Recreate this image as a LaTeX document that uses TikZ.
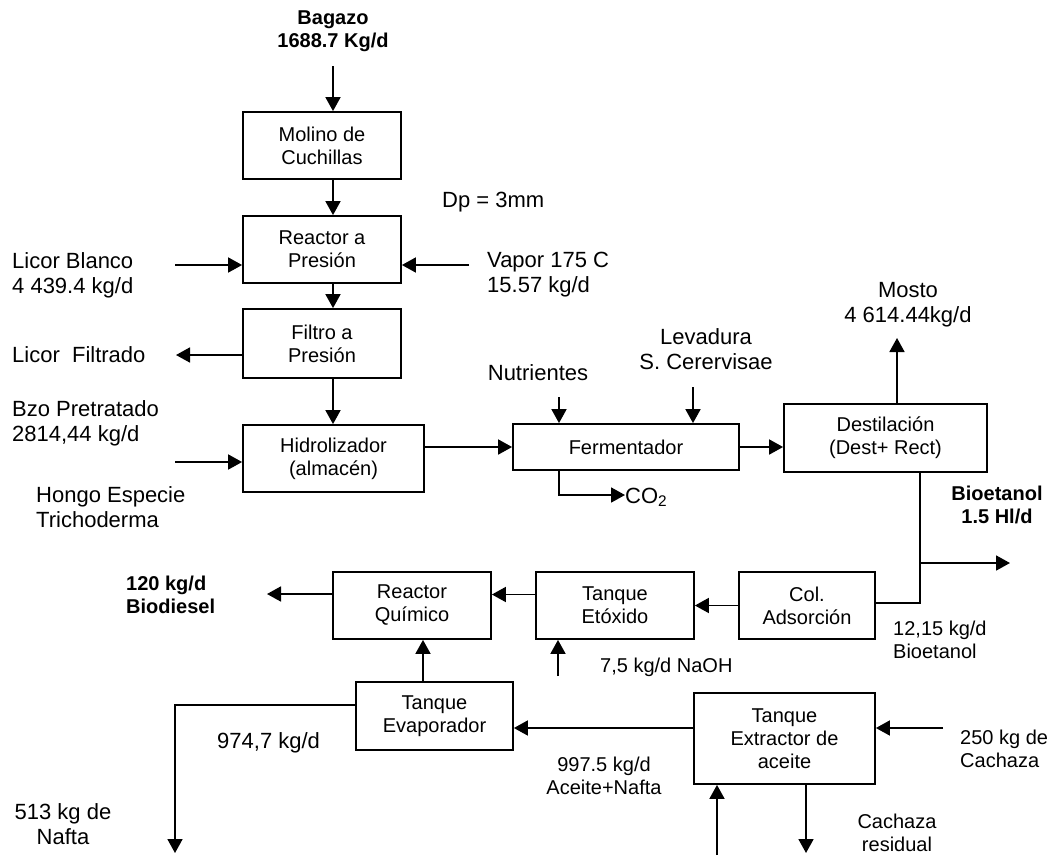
\documentclass[tikz,border=0pt]{standalone}
\usepackage{fontspec}
\setmainfont{Liberation Sans}
\usetikzlibrary{arrows.meta}
\newcommand{\lgtext}{\fontsize{22}{25}\selectfont}
\newcommand{\smtext}{\fontsize{20}{23}\selectfont}

\begin{document}
\begin{tikzpicture}[x=1pt,y=-1pt,
	unit/.style={draw, line width=1.8pt, inner sep=0pt, align=center, font=\smtext},
	flow/.style={line width=1.8pt, -{Triangle[length=14pt,width=15pt]}},
	pipe/.style={line width=1.8pt},
	lbl/.style={inner sep=0pt, font=\lgtext},
	lblsm/.style={inner sep=0pt, font=\smtext},
	lblbf/.style={inner sep=0pt, font=\smtext\bfseries}]
			%%%%% START %%%%%
			\useasboundingbox (0,0) rectangle (1053,855);
			
			% equipos
			\node[unit, minimum width=158pt, minimum height=67pt] (molino) at (322,145.5) {Molino de\\Cuchillas};
			\node[unit, minimum width=158pt, minimum height=67pt] (reactor) at (322,249.5) {Reactor a\\Presión};
			\node[unit, minimum width=158pt, minimum height=69pt] (filtro) at (322,343.5) {Filtro a\\Presión};
			\node[unit, minimum width=181pt, minimum height=67pt] (hidro) at (333.5,458.5) {Hidrolizador\\(almacén)};
			\node[unit, minimum width=226pt, minimum height=46pt] (ferm) at (626,447) {Fermentador};
			\node[unit, minimum width=203pt, minimum height=68pt] (destil) at (885.5,438) {Destilación\\(Dest+ Rect)};
			\node[unit, minimum width=136pt, minimum height=67pt] (coladsor) at (807,605.5) {Col.\\Adsorción};
			\node[unit, minimum width=158pt, minimum height=67pt] (etox) at (615,605.5) {Tanque\\Etóxido};
			\node[unit, minimum width=158pt, minimum height=67pt] (reacq) at (412,605.5) {Reactor\\Químico};
			\node[unit, minimum width=157pt, minimum height=68pt] (evap) at (434.5,716) {Tanque\\Evaporador};
			\node[unit, minimum width=181pt, minimum height=91pt] (extrac) at (784.5,738.5) {Tanque\\Extractor de\\aceite};
			
			% textos
			\node[lblbf, align=center] (bagazo) at (333,31) {Bagazo\\1688.7 Kg/d};
			\node[lbl, anchor=west] (dp) at (442,202) {Dp = 3mm};
			\node[lbl, anchor=west, align=left] (licbl) at (12,275) {Licor Blanco\\4 439.4 kg/d};
			\node[lbl, anchor=west, align=left] (vapor) at (487,275) {Vapor 175 C\\15.57 kg/d};
			\node[lbl, anchor=west] (licfil) at (12,355) {Licor\ \ Filtrado};
			\node[lbl, anchor=west, align=left] (bzo) at (12,423) {Bzo Pretratado\\2814,44 kg/d};
			\node[lbl, anchor=west, align=left] (hongo) at (36,507) {Hongo Especie\\Trichoderma};
			\node[lbl] (nutri) at (538,373) {Nutrientes};
			\node[lbl, align=center] (levad) at (706,349.5) {Levadura\\S. Cerervisae};
			\node[lbl, align=center] (mosto) at (908,305) {Mosto\\4 614.44kg/d};
			\node[lbl, anchor=base west] (co2) at (625,503) {CO\textsubscript{2}};
			\node[lblbf, align=center] (bioet) at (997,505) {Bioetanol\\1.5 Hl/d};
			\node[lblsm, anchor=west, align=left] (bioad) at (893,640) {12,15 kg/d\\Bioetanol};
			\node[lblsm, anchor=west] (naoh) at (600,667) {7,5 kg/d NaOH};
			\node[lblbf, anchor=west, align=left] (biod) at (126,595) {120 kg/d\\Biodiesel};
			\node[lbl, anchor=west] (evapout) at (217,743) {974,7 kg/d};
			\node[lbl, align=center] (nafta) at (63,824.5) {513 kg de\\Nafta};
			\node[lblsm, align=center] (aceite) at (604,775.5) {997.5 kg/d\\Aceite+Nafta};
			\node[lblsm, anchor=west, align=left] (cachaza) at (960,749) {250 kg de\\Cachaza};
			\node[lblsm, align=center] (resid) at (897,833) {Cachaza\\residual};
			
			% extremos libres
			\coordinate (inBag) at (333,66);
			\coordinate (inLic) at (175,265);
			\coordinate (inVap) at (469,265);
			\coordinate (outLic) at (176,355);
			\coordinate (inBzo) at (175,462);
			\coordinate (inNut) at (559,397);
			\coordinate (inLev) at (693,387);
			\coordinate (outMos) at (897,338);
			\coordinate (jBio) at (920,603);
			\coordinate (outBio) at (1010,563);
			\coordinate (outBd) at (267,594);
			\coordinate (inNa) at (558,676);
			\coordinate (outNaf) at (175,853);
			\coordinate (inCach) at (943,728);
			\coordinate (inExt) at (717,855);
			\coordinate (outRes) at (806,853);
			
			% corrientes
			\draw[flow] (inBag) -- (inBag |- molino.north);
			\draw[flow] (molino.south -| inBag) -- (reactor.north -| inBag);
			\draw[flow] (reactor.south -| inBag) -- (filtro.north -| inBag);
			\draw[flow] (filtro.south -| inBag) -- (hidro.north -| inBag);
			\draw[flow] (inLic) -- (inLic -| reactor.west);
			\draw[flow] (inVap) -- (inVap -| reactor.east);
			\draw[flow] (outLic -| filtro.west) -- (outLic);
			\draw[flow] (inBzo) -- (inBzo -| hidro.west);
			\draw[flow] (hidro.east |- ferm.west) -- (ferm.west);
			\draw[flow] (inNut) -- (inNut |- ferm.north);
			\draw[flow] (inLev) -- (inLev |- ferm.north);
			\draw[flow] (ferm.south -| inNut) |- (co2.west |- 0,495);
			\draw[flow] (ferm.east) -- (ferm.east -| destil.west);
			\draw[flow] (destil.north -| outMos) -- (outMos);
			\draw[pipe] (destil.south -| jBio) -- (jBio) -- (jBio -| coladsor.east);
			\draw[flow] (outBio -| jBio) -- (outBio);
			\draw[flow] (coladsor.west) -- (etox.east);
			\draw[flow] ([yshift=11pt]etox.west) -- ([yshift=11pt]reacq.east);
			\draw[flow] (outBd -| reacq.west) -- (outBd);
			\draw[flow] (inNa) -- (inNa |- etox.south);
			\draw[flow] ([xshift=-11.5pt]evap.north) -- ([xshift=-11.5pt]reacq.south -| evap.north);
			\draw[flow] ([yshift=10.5pt]extrac.west) -- ([yshift=10.5pt]extrac.west -| evap.east);
			\draw[flow] ([yshift=11pt]evap.west) -| (outNaf);
			\draw[flow] (inCach) -- (inCach -| extrac.east);
			\draw[flow] (inExt) -- (inExt |- extrac.south);
			\draw[flow] (extrac.south -| outRes) -- (outRes);
			
			%%%%% END %%%%%
\end{tikzpicture}
\end{document}
